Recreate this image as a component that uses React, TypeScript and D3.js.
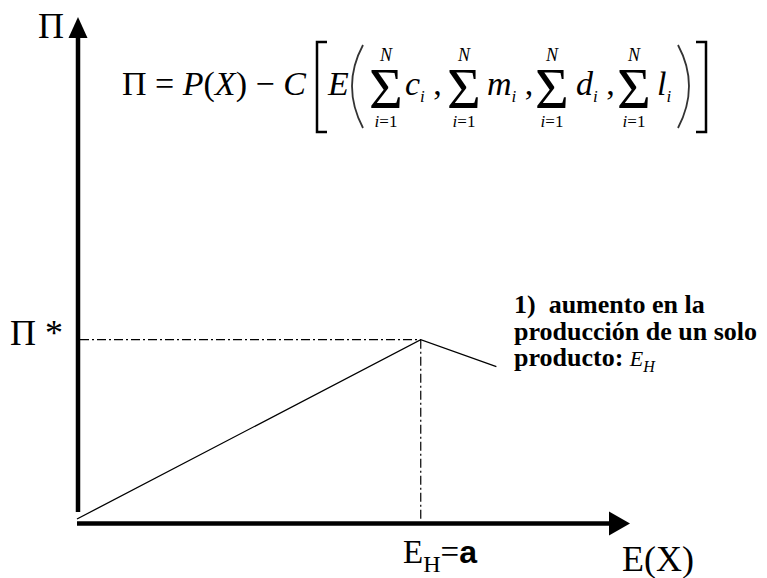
import React, { useEffect, useRef } from 'react';
import * as d3 from 'd3';

// profit curve: rises to the peak at E_H = a, then falls
const curveX = [0, 1, 1.22];
const curveY = [0, 1, 0.85];
const peakX = 1;
const peakY = 1;
const xMax = 1.6;
const yMax = 2.8;

const yAxisLabel = 'Π';
const xAxisLabel = 'E(X)';
const peakYLabel = 'Π *';
const noteLines = ['1)  aumento en la', 'producción de un solo', 'producto: '];
const sumVars = ['c', 'm', 'd', 'l'];

const SERIF = '"Liberation Serif", "Times New Roman", serif';

const App = () => {
  const ref = useRef<SVGSVGElement>(null);

  useEffect(() => {
    const svg = d3.select(ref.current);
    svg.selectAll('*').remove();

    const x = d3.scaleLinear().domain([0, xMax]).range([77, 627]);
    const y = d3.scaleLinear().domain([0, yMax]).range([519, 17]);
    const ox = x(0) + 1;
    const oy = y(0) + 4.5;

    // axes
    svg.append('line')
      .attr('x1', ox).attr('x2', ox)
      .attr('y1', y(0) - 7).attr('y2', y(yMax) + 18)
      .attr('stroke', '#000').attr('stroke-width', 4.5);
    svg.append('path')
      .attr('d', `M${ox},${y(yMax)} L${ox - 9.5},${y(yMax) + 21} L${ox + 9.5},${y(yMax) + 21} Z`)
      .attr('fill', '#000');

    svg.append('line')
      .attr('x1', x(0)).attr('x2', x(xMax) - 16)
      .attr('y1', oy).attr('y2', oy)
      .attr('stroke', '#000').attr('stroke-width', 4.5);
    svg.append('path')
      .attr('d', `M${x(xMax) + 3},${oy} L${x(xMax) - 18},${oy - 12} L${x(xMax) - 18},${oy + 12} Z`)
      .attr('fill', '#000');

    // dash-dot guides to the peak
    svg.append('line')
      .attr('x1', ox + 2).attr('x2', x(peakX))
      .attr('y1', y(peakY)).attr('y2', y(peakY))
      .attr('stroke', '#000').attr('stroke-width', 1.2)
      .attr('stroke-dasharray', '9,3,2,3');
    svg.append('line')
      .attr('x1', x(peakX)).attr('x2', x(peakX))
      .attr('y1', y(peakY)).attr('y2', oy - 2)
      .attr('stroke', '#000').attr('stroke-width', 1.2)
      .attr('stroke-dasharray', '9,3,2,3');

    // profit curve
    const pts: [number, number][] = curveX.map((v, i) => [v, curveY[i]]);
    const line = d3.line<[number, number]>().x((d) => x(d[0])).y((d) => y(d[1]));
    svg.append('path')
      .attr('d', line(pts))
      .attr('fill', 'none')
      .attr('stroke', '#000')
      .attr('stroke-width', 1.3);

    const txt = (tx: number, ty: number, size: number) =>
      svg.append('text')
        .attr('x', tx).attr('y', ty)
        .style('font-family', SERIF)
        .style('font-size', `${size}px`)
        .style('white-space', 'pre')
        .attr('fill', '#000');

    // axis labels
    txt(38, 38, 36).text(yAxisLabel);
    txt(10, 345, 36).text(peakYLabel);
    txt(622, 571, 36).text(xAxisLabel);

    const eh = txt(403, 563, 33);
    eh.append('tspan').text('E');
    eh.append('tspan').attr('dy', 9).style('font-size', '24px').text('H');
    eh.append('tspan').attr('dy', -9).text('=');
    eh.append('tspan')
      .style('font-family', '"Liberation Sans", Arial, sans-serif')
      .style('font-weight', 'bold')
      .style('font-size', '32px')
      .text('a');

    // annotation
    noteLines.forEach((l, i) => {
      const t = txt(514, 313 + i * 26.5, 26).style('font-weight', 'bold');
      t.append('tspan').text(l);
      if (i === noteLines.length - 1) {
        t.append('tspan').style('font-weight', 'normal').style('font-style', 'italic').style('font-size', '22px').text('E');
        t.append('tspan').attr('dy', 6).style('font-weight', 'normal').style('font-style', 'italic').style('font-size', '16px').text('H');
      }
    });

    // formula
    const base = 95;
    const f = txt(122, base, 34);
    f.append('tspan').text('Π = ');
    f.append('tspan').style('font-style', 'italic').text('P');
    f.append('tspan').text('(');
    f.append('tspan').style('font-style', 'italic').text('X');
    f.append('tspan').text(') − ');
    f.append('tspan').style('font-style', 'italic').text('C');

    svg.append('path')
      .attr('d', 'M327,42 H317 V132 H327')
      .attr('fill', 'none').attr('stroke', '#000').attr('stroke-width', 2.5);
    svg.append('path')
      .attr('d', 'M696,42 H706 V132 H696')
      .attr('fill', 'none').attr('stroke', '#000').attr('stroke-width', 2.5);
    txt(328, base, 34).style('font-style', 'italic').text('E');
    svg.append('path')
      .attr('d', 'M363,45 Q341,86 363,128')
      .attr('fill', 'none').attr('stroke', '#333').attr('stroke-width', 1.8);
    svg.append('path')
      .attr('d', 'M678,45 Q700,86 678,128')
      .attr('fill', 'none').attr('stroke', '#333').attr('stroke-width', 1.8);

    const sigmaX = [386, 464, 552, 634];
    const varX = [405, 487, 576, 657];
    sumVars.forEach((v, i) => {
      txt(sigmaX[i], 108, 58).attr('text-anchor', 'middle').text('Σ');
      txt(sigmaX[i], 61, 18).attr('text-anchor', 'middle').style('font-style', 'italic').text('N');
      const lo = txt(sigmaX[i], 127, 17).attr('text-anchor', 'middle');
      lo.append('tspan').style('font-style', 'italic').text('i');
      lo.append('tspan').text('=1');
      const t = txt(varX[i], base, 34).style('font-style', 'italic');
      t.append('tspan').text(v);
      t.append('tspan').attr('dy', 7).style('font-size', '17px').text('i');
      if (i < sumVars.length - 1) {
        t.append('tspan').attr('dy', -7).style('font-style', 'normal').text(' ,');
      }
    });
  }, []);

  return (
    <svg
      ref={ref}
      width={767}
      height={578}
      style={{ position: 'absolute', left: 0, top: 0, background: '#fff' }}
    />
  );
};

export default App;
